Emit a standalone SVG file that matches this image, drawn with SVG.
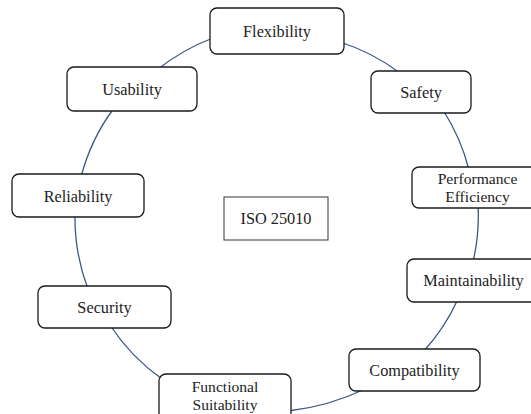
<svg xmlns="http://www.w3.org/2000/svg" width="531" height="414" viewBox="0 0 531 414" font-family="'Liberation Serif', 'Times New Roman', serif">
<style>
.bg{fill:#ffffff}
.node rect{fill:#ffffff;stroke:#1a1a1a;stroke-width:1.3}
.center rect{fill:#ffffff;stroke:#333333;stroke-width:1}
text{font-family:'Liberation Serif','Times New Roman',serif;font-size:16.3px;fill:#222222;text-anchor:middle}
.two{font-size:15.6px}
.conn path{fill:none;stroke:#3b5785;stroke-width:1.3}
</style>
<rect class="bg" x="0" y="0" width="531" height="414"/>
<g id="connectors" class="conn">
<path d="M340,42 A200,200 0 0 1 400,73"/>
<path d="M443,110 A200,200 0 0 1 469,170"/>
<path d="M478,205 A200,200 0 0 1 473,262"/>
<path d="M458,299 A200,200 0 0 1 423,352"/>
<path d="M365,389 A240,240 0 0 1 288,411"/>
<path d="M162,379 A200,200 0 0 1 110,325"/>
<path d="M88,289 A200,200 0 0 1 75,214"/>
<path d="M81,177 A200,200 0 0 1 114,108"/>
<path d="M157,70 A200,200 0 0 1 213,38"/>
</g>
<g id="node-flexibility" class="node"><rect x="210" y="8" width="134" height="46" rx="7"/><text x="277" y="37">Flexibility</text></g>
<g id="node-safety" class="node"><rect x="371" y="71" width="100" height="42" rx="7"/><text x="421" y="98">Safety</text></g>
<g id="node-performance" class="node"><rect x="412" y="167" width="131" height="41" rx="7"/><text class="two" x="477.5" y="184">Performance</text><text class="two" x="477.5" y="202">Efficiency</text></g>
<g id="node-maintainability" class="node"><rect x="407" y="259" width="133" height="43" rx="7"/><text x="473.5" y="286">Maintainability</text></g>
<g id="node-compatibility" class="node"><rect x="349" y="349" width="131" height="42" rx="7"/><text x="414.5" y="376">Compatibility</text></g>
<g id="node-functional" class="node"><rect x="159" y="374" width="132" height="46" rx="7"/><text class="two" x="225" y="392">Functional</text><text class="two" x="225" y="410">Suitability</text></g>
<g id="node-security" class="node"><rect x="38" y="286" width="133" height="42" rx="7"/><text x="104.5" y="313">Security</text></g>
<g id="node-reliability" class="node"><rect x="12" y="174" width="132" height="43" rx="7"/><text x="78" y="201.5">Reliability</text></g>
<g id="node-usability" class="node"><rect x="67" y="67" width="130" height="44" rx="7"/><text x="132" y="95">Usability</text></g>
<g id="node-iso" class="center"><rect x="224" y="197" width="104" height="43"/><text x="276" y="223.5">ISO 25010</text></g>
</svg>
